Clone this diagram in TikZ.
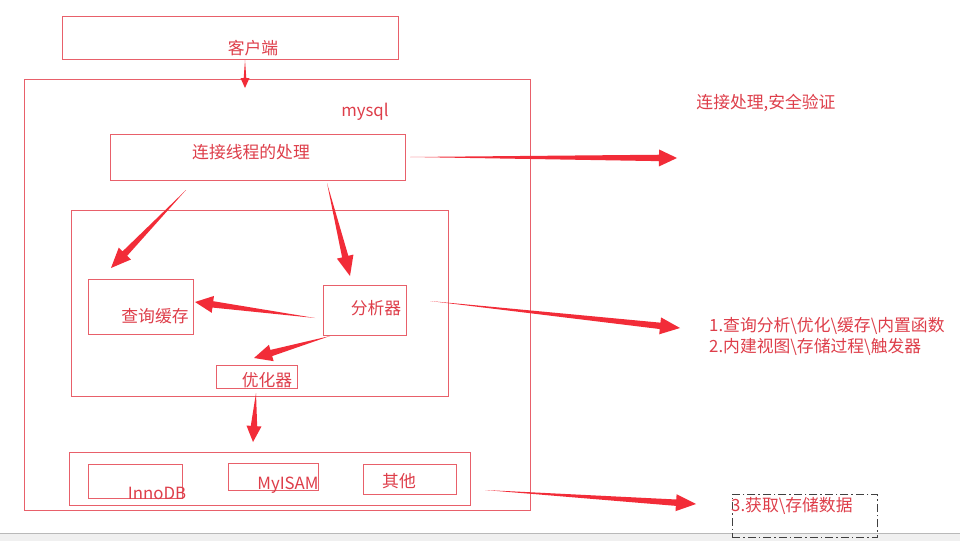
\documentclass[tikz,border=0pt]{standalone}
\usepackage{fontspec}
\setmainfont{Noto Sans CJK SC}
\usetikzlibrary{calc}

\definecolor{boxred}{RGB}{232,96,106}
\definecolor{txtred}{RGB}{222,62,74}
\definecolor{arrowred}{RGB}{242,44,56}

\tikzset{
  box/.style={draw=boxred, line width=0.8pt, anchor=north west, inner sep=0pt},
  txt/.style={text=txtred, font=\fontsize{16.8}{19}\selectfont, inner sep=0pt},
  note/.style={txt, anchor=west},
}

% tapered arrow: from, to, head length, head half width, shaft half width
\newcommand{\fatarrow}[5]{%
  \fill[arrowred] (#1)
    -- ($(#2)!#3!(#1)!#5!90:(#2)$)
    -- ($(#2)!#3!(#1)!#4!90:(#2)$)
    -- (#2)
    -- ($(#2)!#3!(#1)!#4!-90:(#2)$)
    -- ($(#2)!#3!(#1)!#5!-90:(#2)$)
    -- cycle;}

\begin{document}
\begin{tikzpicture}[x=1pt, y=-1pt]
	\fill[white] (0,0) rectangle (960,541);
	\useasboundingbox (0,0) rectangle (960,541);
	% window bar at the bottom
	\fill[gray!12] (0,533) rectangle (960,541);
	\draw[gray!55, line width=0.8pt] (0,533) -- (960,533);

	% boxes
	\node[box, minimum width=336pt, minimum height=43pt] (client) at (62,16) {};
	\node[box, minimum width=506pt, minimum height=431pt] (mysql) at (24,79) {};
	\node[box, minimum width=295pt, minimum height=46pt] (conn) at (110,134) {};
	\node[box, minimum width=377pt, minimum height=186pt] (core) at (71,210) {};
	\node[box, minimum width=105pt, minimum height=55pt] (cache) at (88,279) {};
	\node[box, minimum width=83pt, minimum height=50pt] (parser) at (323,285) {};
	\node[box, minimum width=81pt, minimum height=23pt] (optim) at (216,365) {};
	\node[box, minimum width=401pt, minimum height=53pt] (engines) at (69,452) {};
	\node[box, minimum width=94pt, minimum height=34pt] (innodb) at (88,464) {};
	\node[box, minimum width=90pt, minimum height=27pt] (myisam) at (228,463) {};
	\node[box, minimum width=93pt, minimum height=30pt] (other) at (363,464) {};
	\node[draw=black!75, line width=0.9pt, dash pattern=on 8pt off 3pt on 1.5pt off 3pt,
	      anchor=north west, inner sep=0pt, minimum width=145pt, minimum height=43pt] (fetch) at (732,494) {};

	% labels
	\node[txt] (clientlbl) at (253,48) {客户端};
	\node[txt] (mysqllbl) at (365,112) {mysql};
	\node[txt] (connlbl) at (251,152) {连接线程的处理};
	\node[txt] (cachelbl) at (155,316) {查询缓存};
	\node[txt] (parserlbl) at (376,308) {分析器};
	\node[txt] (optimlbl) at (267,380) {优化器};
	\node[txt] (innodblbl) at (157,493) {InnoDB};
	\node[txt] (myisamlbl) at (288,485) {MyISAM};
	\node[txt] (otherlbl) at (399,481) {其他};

	% notes on the right
	\node[txt] (note1) at (766,103) {连接处理,安全验证};
	\node[note] (note2a) at (709,326) {1.查询分析\textbackslash 优化\textbackslash 缓存\textbackslash 内置函数};
	\node[note] (note2b) at (709,347) {2.内建视图\textbackslash 存储过程\textbackslash 触发器};
	\node[note] (note3) at (731,506) {3.获取\textbackslash 存储数据};

	% arrow ends
	\coordinate (a1s) at (245,60);  \coordinate (a1e) at (245,88);
	\coordinate (a2s) at (410,157); \coordinate (a2e) at (677,158);
	\coordinate (a3s) at (186,190); \coordinate (a3e) at (111,268);
	\coordinate (a4s) at (327,183); \coordinate (a4e) at (350,276);
	\coordinate (a5s) at (315,318); \coordinate (a5e) at (195,302);
	\coordinate (a6s) at (330,336); \coordinate (a6e) at (254,358);
	\coordinate (a7s) at (256,393); \coordinate (a7e) at (253,442);
	\coordinate (a8s) at (430,301); \coordinate (a8e) at (680,328);
	\coordinate (a9s) at (485,490); \coordinate (a9e) at (696,504);

	% arrows
	\fatarrow{a1s}{a1e}{10pt}{4.5pt}{1.3pt}
	\fatarrow{a2s}{a2e}{18pt}{8.5pt}{3.2pt}
	\fatarrow{a3s}{a3e}{20pt}{8.5pt}{3.2pt}
	\fatarrow{a4s}{a4e}{20pt}{8.5pt}{3.2pt}
	\fatarrow{a5s}{a5e}{18pt}{8.5pt}{3.2pt}
	\fatarrow{a6s}{a6e}{18pt}{8.5pt}{3.2pt}
	\fatarrow{a7s}{a7e}{16pt}{7.5pt}{3.2pt}
	\fatarrow{a8s}{a8e}{20pt}{8.5pt}{3.2pt}
	\fatarrow{a9s}{a9e}{20pt}{8.5pt}{3.2pt}
\end{tikzpicture}
\end{document}
